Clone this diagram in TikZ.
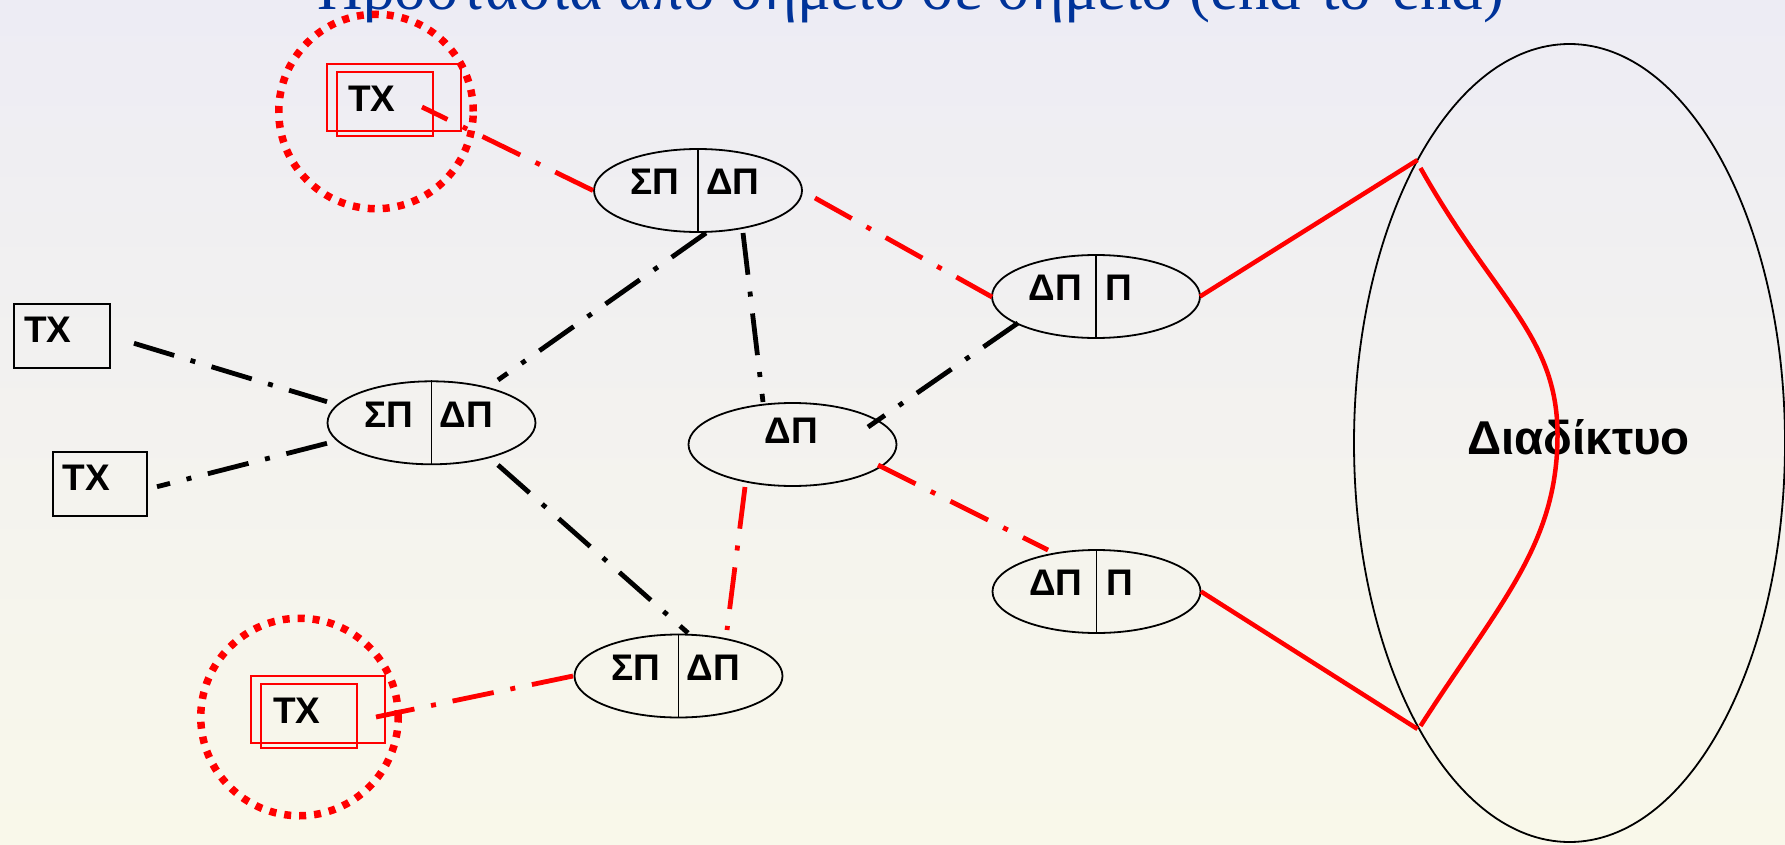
\documentclass[tikz,border=0pt]{standalone}
\usepackage{fontspec}
\setmainfont{Liberation Serif}
\newfontfamily\labelfont{Liberation Sans}
\usetikzlibrary{calc,shapes.geometric}
\definecolor{titleblue}{RGB}{0,51,153}
\definecolor{bgtop}{RGB}{237,236,244}
\definecolor{bgbottom}{RGB}{249,248,234}

\begin{document}
\begin{tikzpicture}[x=1pt,y=-1pt,
  dashdot/.style={line width=4.8pt, line cap=butt,
    dash pattern=on 42pt off 17pt on 5pt off 17pt},
  blklink/.style={dashdot, black},
  redlink/.style={dashdot, red},
  redsolid/.style={line width=4.5pt, red},
  router/.style={draw, ellipse, line width=1.8pt, minimum width=208pt,
    minimum height=83pt, inner sep=0pt},
  lbl/.style={font=\labelfont\bfseries\fontsize{37}{37}\selectfont,
    inner sep=0pt, anchor=base},
  hostlbl/.style={lbl, anchor=base west},
  hostbox/.style={draw, line width=1.8pt, minimum width=96pt,
    minimum height=64pt, inner sep=0pt},
  redbox/.style={draw=red, line width=2pt, inner sep=0pt},
  guard/.style={draw=red, circle, line width=7.5pt,
    dash pattern=on 7pt off 8pt, inner sep=0pt}
]
% page and background
\useasboundingbox (0,0) rectangle (1785,845);
\shade[top color=bgtop, bottom color=bgbottom] (0,0) rectangle (1785,845);

% title (upper part lies above the page)
\node[font=\fontsize{63}{63}\selectfont, text=titleblue, anchor=base,
  inner sep=0pt] (title) at (911,10)
  {Προστασία από σημείο σε σημείο (end-to-end)};

% the Internet
\node[draw, ellipse, line width=1.8pt, minimum width=431pt,
  minimum height=798pt, inner sep=0pt] (inet) at (1569.5,443) {};
\node[font=\labelfont\bfseries\fontsize{47.5}{47.5}\selectfont, inner sep=0pt,
  anchor=base] (inetlbl) at (1578.5,454) {Διαδίκτυο};

% routers with two halves
\foreach \n/\cx/\cy in {sp1/698/190.5, sp2/431.5/422.8, sp3/678.5/676}{
  \node[router] (\n) at (\cx,\cy) {};
  \draw[line width=1.8pt] (\n.north) -- (\n.south);
  \node[lbl] (\n l) at ($(\n)+(-43,4.5)$) {ΣΠ};
  \node[lbl] (\n r) at ($(\n)+(35,4.5)$) {ΔΠ};
}
\foreach \n/\cx/\cy in {r1/1096/296.5, r2/1096.5/591.5}{
  \node[router] (\n) at (\cx,\cy) {};
  \draw[line width=1.8pt] (\n.north) -- (\n.south);
  \node[lbl] (\n l) at ($(\n)+(-40.5,3.5)$) {ΔΠ};
  \node[lbl] (\n r) at ($(\n)+(23,3.5)$) {Π};
}
\node[router] (dp) at (792.5,444.5) {};
\node[lbl] (dpl) at ($(dp)+(-1,-1.5)$) {ΔΠ};

% unprotected hosts
\node[hostbox] (tx1) at (62,336) {};
\node[hostlbl] (tx1l) at ($(tx1)+(-38,6.3)$) {ΤΧ};
\node[hostbox, minimum width=94.5pt] (tx2) at (100,484) {};
\node[hostlbl] (tx2l) at ($(tx2)+(-37.5,6)$) {ΤΧ};

% protected hosts
\node[guard, minimum size=194.5pt] (g1) at (376,111.5) {};
\node[redbox, minimum width=134pt, minimum height=67pt] (ptx1o) at (394,97.5) {};
\node[redbox, minimum width=96pt, minimum height=64pt] (ptx1) at (385,104) {};
\node[hostlbl] (ptx1l) at ($(ptx1)+(-37,8)$) {ΤΧ};

\node[guard, minimum size=197.5pt] (g2) at (299.5,717) {};
\node[redbox, minimum width=134pt, minimum height=67pt] (ptx2o) at (318,709.5) {};
\node[redbox, minimum width=96pt, minimum height=64pt] (ptx2) at (309,716) {};
\node[hostlbl] (ptx2l) at ($(ptx2)+(-36,7)$) {ΤΧ};

% plain links
\draw[blklink] ($(tx1)+(72,7.3)$) -- ($(sp2)+(-104.5,-21.1)$);
\draw[blklink] ($(sp2)+(-104.5,20.5)$) -- ($(tx2)+(57,2.7)$);
\draw[blklink] ($(sp1)+(8,42.5)$) -- ($(sp2)+(66.5,-42.8)$);
\draw[blklink] ($(sp1)+(45,42.5)$) -- ($(dp)+(-29.5,-42.5)$);
\draw[blklink] ($(r1)+(-78,26.5)$) -- ($(dp)+(75.5,-17.5)$);
\draw[blklink] ($(sp2)+(66.5,42.2)$) -- ($(sp3)+(9.5,-43)$);

% protected path
\draw[redlink] ($(sp1)+(-105,0)$) -- ($(ptx1)+(37,3)$);
\draw[redlink] ($(sp1)+(117,7.5)$) -- ($(r1)+(-104,0.5)$);
\draw[redlink] ($(dp)+(85.5,20.5)$) -- ($(r2)+(-48.5,-41.5)$);
\draw[redlink] ($(dp)+(-47.5,42.5)$) -- ($(sp3)+(48.5,-46)$);
\draw[redlink] ($(sp3)+(-105.5,0)$) -- ($(ptx2)+(67,1)$);

\draw[redsolid] ($(r1)+(104,0)$) -- ($(inet)+(-152,-283)$);
\draw[redsolid] ($(r2)+(104.5,0)$) -- ($(inet)+(-152,286)$);
\draw[redsolid] ($(inet)+(-149,-275)$)
  .. controls ($(inet)+(-76,-145)$) and ($(inet)+(-12,-108)$) .. ($(inet)+(-12,-8)$)
  .. controls ($(inet)+(-12,102)$) and ($(inet)+(-70,160)$) .. ($(inet)+(-149,283)$);
\end{tikzpicture}
\end{document}
